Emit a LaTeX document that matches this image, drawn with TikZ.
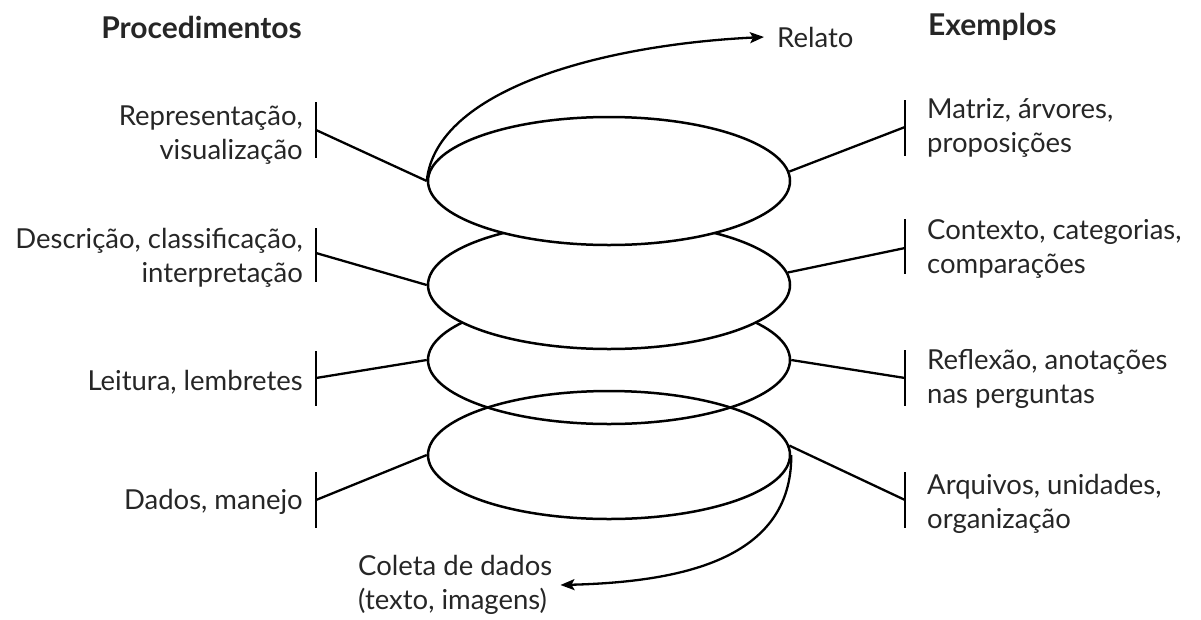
\documentclass[tikz,border=0pt]{standalone}
\usepackage{fontspec}
\setmainfont{Lato}
\usetikzlibrary{shapes.geometric,arrows.meta}
\definecolor{txt}{HTML}{262626}
\tikzset{
  ring/.style={ellipse, draw=black, line width=2.5pt, minimum width=362pt, minimum height=128pt, inner sep=0pt},
  lbl/.style={text=txt, font=\fontsize{27.5}{34}\selectfont, inner sep=0pt},
  lblL/.style={lbl, align=right, anchor=east},
  lblR/.style={lbl, align=left, anchor=west},
  head/.style={text=txt, font=\fontsize{30}{34}\selectfont\bfseries, inner sep=0pt},
  bar/.style={line width=2.4pt},
  conn/.style={line width=2.3pt},
  flow/.style={line width=2.3pt, -{Stealth[length=14pt,width=11pt,inset=3pt]}}
}
\begin{document}
\begin{tikzpicture}[x=1pt,y=-1pt]
\useasboundingbox (0,0) rectangle (1201,619);
% headings
\node[head, anchor=east] (hp) at (302,27) {Procedimentos};
\node[head, anchor=west] (he) at (928,27) {Exemplos};
% rings (bottom ones first, upper ones white-filled on top)
\node[ring] (e4) at (609,455) {};
\node[ring] (e3) at (609,360) {};
\node[ring, fill=white] (e2) at (609,285) {};
\node[ring, fill=white] (e1) at (609,181) {};
% left labels and bars
\node[lblL] (l1) at (303,135) {Representação,\\visualização};
\node[lblL] (l2) at (303,258) {Descrição, classificação,\\interpretação};
\node[lblL] (l3) at (303,382) {Leitura, lembretes};
\node[lblL] (l4) at (303,502) {Dados, manejo};
\coordinate (bl1t) at (316,102); \coordinate (bl1b) at (316,158); \coordinate (bl1) at (316,130);
\coordinate (bl2t) at (316,228); \coordinate (bl2b) at (316,282); \coordinate (bl2) at (316,253);
\coordinate (bl3t) at (316,351); \coordinate (bl3b) at (316,406); \coordinate (bl3) at (316,378);
\coordinate (bl4t) at (316,472); \coordinate (bl4b) at (316,528); \coordinate (bl4) at (316,500);
\draw[bar] (bl1t) -- (bl1b); \draw[bar] (bl2t) -- (bl2b); \draw[bar] (bl3t) -- (bl3b); \draw[bar] (bl4t) -- (bl4b);
\draw[conn] (bl1) -- (e1.west);
\draw[conn] (bl2) -- (e2.west);
\draw[conn] (bl3) -- (e3.west);
\draw[conn] (bl4) -- (e4.west);
% right labels and bars
\node[lblR] (r1) at (927,128) {Matriz, árvores,\\proposições};
\node[lblR] (r2) at (927,249) {Contexto, categorias,\\comparações};
\node[lblR] (r3) at (927,379) {Reflexão, anotações\\nas perguntas};
\node[lblR] (r4) at (927,504) {Arquivos, unidades,\\organização};
\coordinate (br1t) at (905,100); \coordinate (br1b) at (905,156); \coordinate (br1) at (905,127);
\coordinate (br2t) at (905,219); \coordinate (br2b) at (905,274); \coordinate (br2) at (905,248);
\coordinate (br3t) at (905,350); \coordinate (br3b) at (905,406); \coordinate (br3) at (905,378);
\coordinate (br4t) at (905,472); \coordinate (br4b) at (905,528); \coordinate (br4) at (905,500);
\draw[bar] (br1t) -- (br1b); \draw[bar] (br2t) -- (br2b); \draw[bar] (br3t) -- (br3b); \draw[bar] (br4t) -- (br4b);
\draw[conn] (br1) -- (e1.3);
\draw[conn] (br2) -- (e2.4);
\draw[conn] (br3) -- (e3.east);
\draw[conn] (br4) -- (e4.3);
% flow arrows
\node[lbl, anchor=west] (rel) at (777,37) {Relato};
\node[lbl, align=left, anchor=west] (col) at (358,585) {Coleta de dados\\(texto, imagens)};
\draw[flow] (e1.west) .. controls (436,90) and (600,45) .. ([xshift=-13pt]rel.west);
\draw[flow] (e4.east) .. controls (792,560) and (680,582) .. ([xshift=8pt]col.east);
\end{tikzpicture}
\end{document}
